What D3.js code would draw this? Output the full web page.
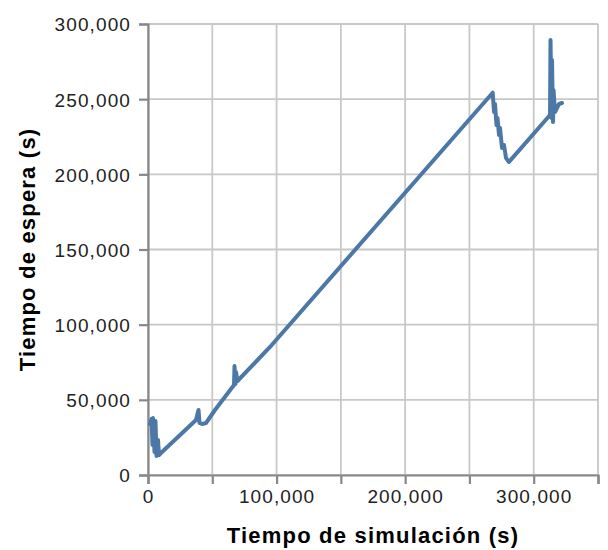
<!DOCTYPE html>
<html>
<head>
<meta charset="utf-8">
<script src="https://cdn.jsdelivr.net/npm/d3@7"></script>
<style>
  html, body { margin: 0; padding: 0; background: #fff; }
  svg { display: block; }
  .tick-label { font-family: "Liberation Sans", Arial, Helvetica, sans-serif; font-size: 19px; fill: #222; letter-spacing: 1.1px; }
  .axis-title { font-family: "Liberation Sans", Arial, Helvetica, sans-serif; font-size: 22px; font-weight: bold; fill: #000; letter-spacing: 1.2px; }
</style>
</head>
<body>
<svg id="chart" width="608" height="550"></svg>
<script>
// Simulation time (s) and waiting time (s) samples
const simTime = [
  1560, 2720, 3500, 3890, 5060, 5830, 6610, 7780, 8560, 10890,
  37330, 39280, 40060, 42000, 45110, 52110, 66890, 67300, 68060, 68450,
  69610, 94890, 268100, 269110, 269890, 271060, 271840, 273010, 273790, 275340,
  276900, 278460, 280790, 312680, 313070, 313840, 314230, 315010, 315400, 316560,
  318120, 319670, 322000
];
const waitTime = [
  33900, 37250, 19960, 37920, 15300, 35920, 12640, 23280, 13300, 15300,
  36590, 43240, 34590, 33930, 34590, 43240, 59870, 72500, 60530, 68520,
  62530, 85150, 254300, 241470, 246800, 232820, 237480, 226170, 230840, 217520,
  219520, 210870, 208210, 239470, 289360, 237480, 276060, 234820, 256100, 241470,
  244130, 246800, 247460
];

// Axis ticks
const xTicks = [0, 50000, 100000, 150000, 200000, 250000, 300000, 350000];
const xTickLabels = ["0", "", "100,000", "", "200,000", "", "300,000", ""];
const yTicks = [0, 50000, 100000, 150000, 200000, 250000, 300000];
const yTickLabels = ["0", "50,000", "100,000", "150,000", "200,000", "250,000", "300,000"];

const xTitle = "Tiempo de simulación (s)";
const yTitle = "Tiempo de espera (s)";

const margin = { left: 148, top: 24 };
const width = 450, height = 451;

const svg = d3.select("#chart");
const g = svg.append("g").attr("transform", `translate(${margin.left},${margin.top})`);

const x = d3.scaleLinear().domain([0, 350000]).range([0, width]);
const y = d3.scaleLinear().domain([0, 300000]).range([height, 0]);

// Grid
g.append("g")
  .selectAll("line")
  .data(xTicks)
  .join("line")
  .attr("x1", d => x(d)).attr("x2", d => x(d))
  .attr("y1", 0).attr("y2", height)
  .attr("stroke", "#c8c8c8").attr("stroke-width", 1.8);

g.append("g")
  .selectAll("line")
  .data(yTicks)
  .join("line")
  .attr("x1", 0).attr("x2", width)
  .attr("y1", d => y(d)).attr("y2", d => y(d))
  .attr("stroke", "#c8c8c8").attr("stroke-width", 1.8);

// Axes
const xAxis = d3.axisBottom(x)
  .tickValues(xTicks)
  .tickSize(9)
  .tickPadding(6)
  .tickFormat((d, i) => xTickLabels[i]);
const yAxis = d3.axisLeft(y)
  .tickValues(yTicks)
  .tickSize(9)
  .tickPadding(8)
  .tickFormat((d, i) => yTickLabels[i]);

const gx = g.append("g").attr("transform", `translate(0,${height})`).call(xAxis);
const gy = g.append("g").call(yAxis);

[gx, gy].forEach(ax => {
  ax.select(".domain").attr("stroke", "#888").attr("stroke-width", 2.2);
  ax.selectAll(".tick line").attr("stroke", "#888").attr("stroke-width", 2.2);
  ax.selectAll(".tick text").attr("class", "tick-label").attr("font-family", null).attr("font-size", null);
});
gx.selectAll(".tick text").attr("dy", "0.7em");
gy.selectAll(".tick text").attr("dy", "0.36em");

// Line
const pts = simTime.map((t, i) => [t, waitTime[i]]);
const line = d3.line().x(d => x(d[0])).y(d => y(d[1]));
g.append("path")
  .datum(pts)
  .attr("d", line)
  .attr("fill", "none")
  .attr("stroke", "#4c78a8")
  .attr("stroke-width", 4)
  .attr("stroke-linejoin", "round")
  .attr("stroke-linecap", "round");

// Titles
svg.append("text")
  .attr("class", "axis-title")
  .attr("x", margin.left + width / 2)
  .attr("y", 543)
  .attr("text-anchor", "middle")
  .text(xTitle);

svg.append("text")
  .attr("class", "axis-title")
  .attr("transform", `translate(35,${margin.top + height / 2}) rotate(-90)`)
  .attr("text-anchor", "middle")
  .text(yTitle);
</script>
</body>
</html>
